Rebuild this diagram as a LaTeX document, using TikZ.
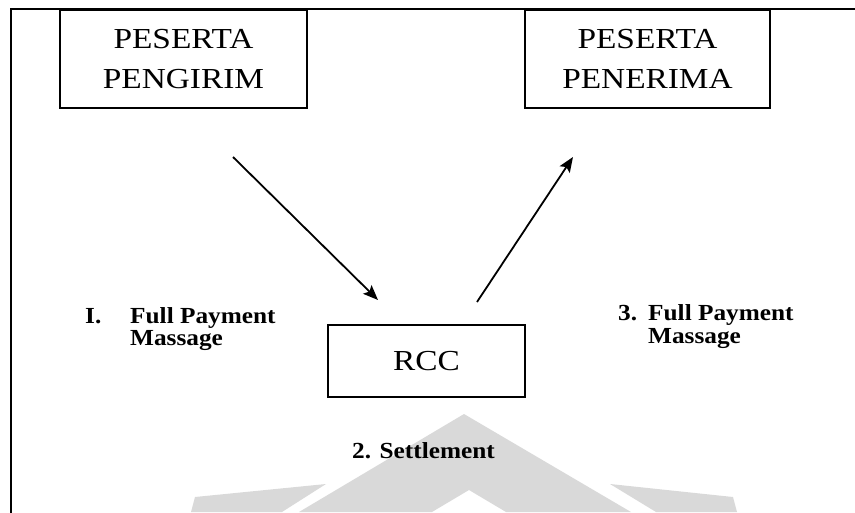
\documentclass[tikz,border=0pt]{standalone}
\usepackage{fontspec}
\setmainfont{Liberation Serif}
\newfontfamily\boxfont{Liberation Serif}[FakeStretch=1.15]
\newfontfamily\labfont{Liberation Serif}[FakeStretch=1.1]
\usetikzlibrary{arrows.meta}
\begin{document}
\begin{tikzpicture}[x=1pt,y=-1pt,
  frame/.style={line width=2.2pt, line cap=rect},
  box/.style={draw, line width=1.6pt, inner sep=0pt, align=center,
    font=\boxfont\fontsize{29}{40}\selectfont},
  lab/.style={inner sep=0pt, anchor=base west,
    font=\labfont\bfseries\fontsize{23}{27}\selectfont},
  flow/.style={line width=1.8pt, -{Stealth[length=15pt,width=12pt,inset=3pt]}},
  wmark/.style={fill=black!15, draw=none}]
\useasboundingbox (0,0) rectangle (855,512);
% watermark
\fill[wmark] (299,512) -- (464,414) -- (631,512) -- (506,512) -- (469,490) -- (432,512) -- cycle;
\fill[wmark] (191,512) -- (195,497) -- (326,484) -- (282,512) -- cycle;
\fill[wmark] (656,512) -- (610,484) -- (733,497) -- (737,512) -- cycle;
% outer frame
\draw[frame] (11,512) -- (11,9) -- (855,9);
% boxes
\node[box, minimum width=247pt, minimum height=98pt] (pengirim) at (183.5,59) {PESERTA\\PENGIRIM};
\node[box, minimum width=245pt, minimum height=98pt] (penerima) at (647.5,59) {PESERTA\\PENERIMA};
\node[box, minimum width=197pt, minimum height=72pt] (rcc) at (426.5,361) {RCC};
% arrows
\coordinate (a1s) at (233,157);
\coordinate (a1e) at (378,300);
\coordinate (a2s) at (477,302);
\coordinate (a2e) at (573,157);
\draw[flow] (a1s) -- (a1e);
\draw[flow] (a2s) -- (a2e);
% labels
\node[lab] (l1n) at (85,323) {I.};
\node[lab] (l1a) at (130,323) {Full Payment};
\node[lab] (l1b) at (130,345) {Massage};
\node[lab] (l3n) at (618,320) {3.};
\node[lab] (l3a) at (648,320) {Full Payment};
\node[lab] (l3b) at (648,343) {Massage};
\node[lab] (l2) at (352,458) {2. Settlement};
\end{tikzpicture}
\end{document}
